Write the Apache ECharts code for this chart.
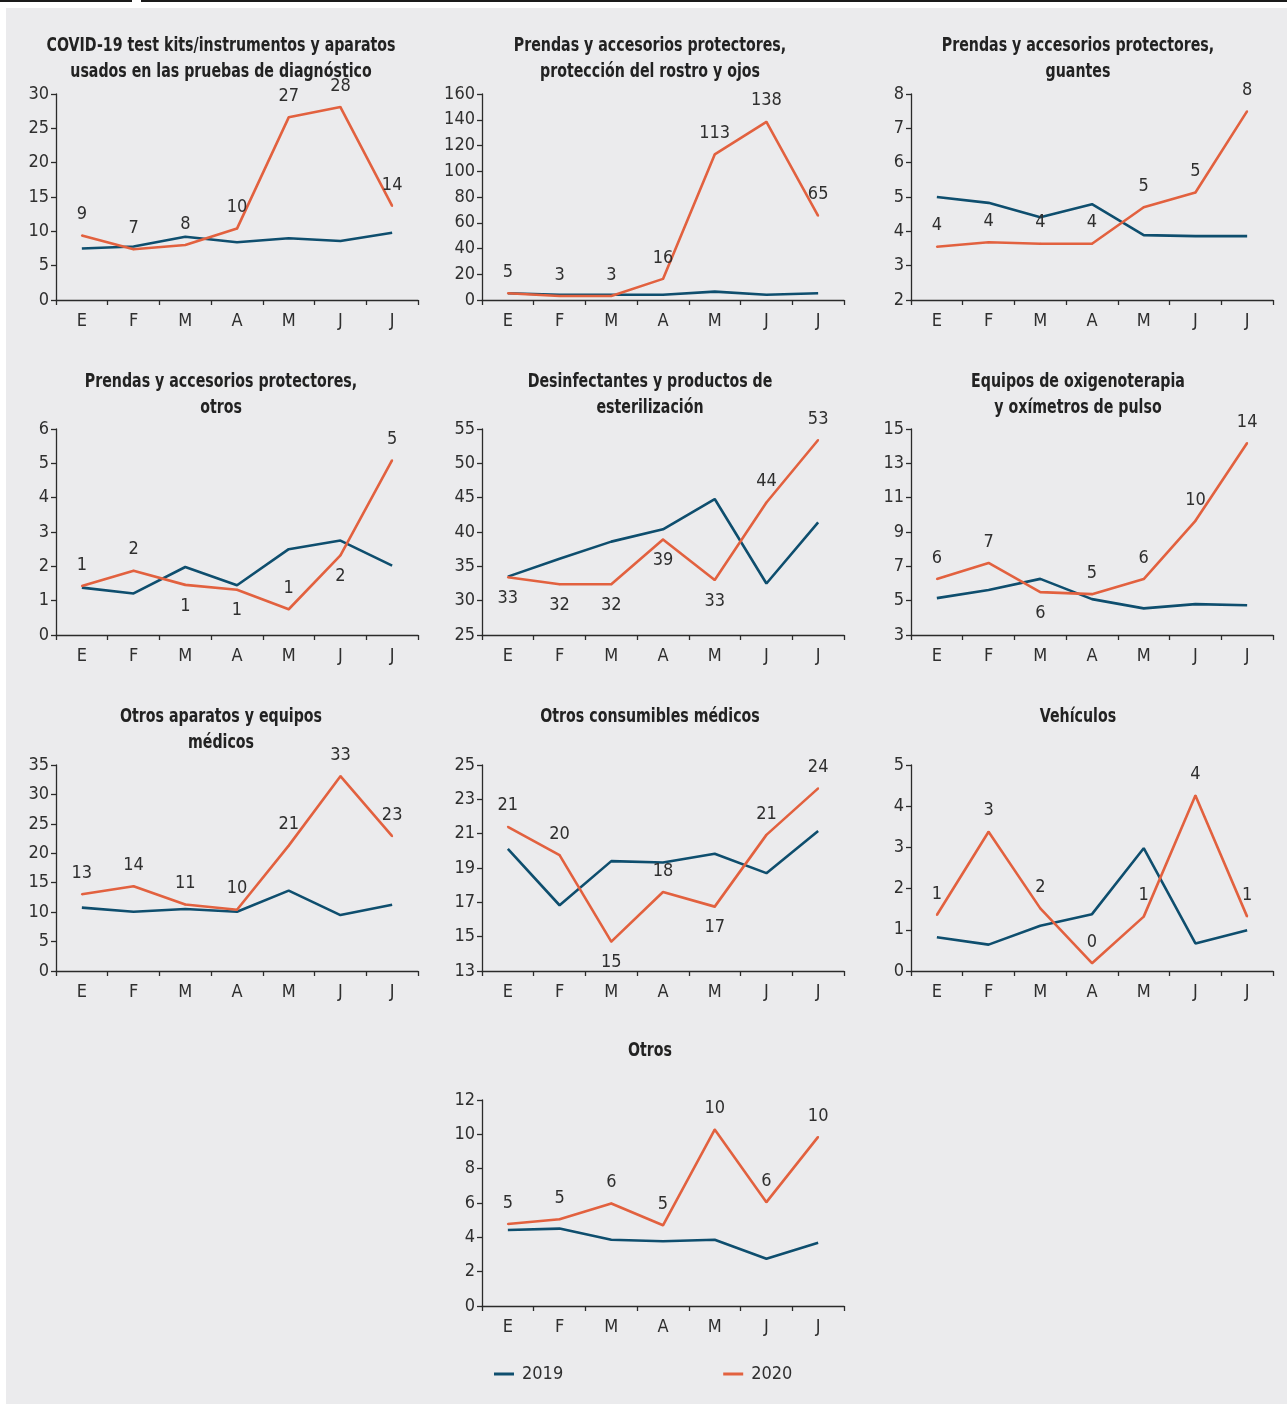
<!DOCTYPE html>
<html>
<head>
<meta charset="utf-8">
<script src="https://cdn.jsdelivr.net/npm/echarts@6/dist/echarts.min.js"></script>
<style>
  html, body { margin: 0; padding: 0; background: #ffffff; }
  #wrap { position: relative; width: 1287px; height: 1404px; overflow: hidden; }
  #panel { position: absolute; left: 6px; top: 8px; right: 0; bottom: 0; background: #ebebed; }
  .rule { position: absolute; top: 0; height: 2px; background: #1a1a1a; }
  #chart { position: absolute; left: 0; top: 0; width: 1287px; height: 1404px; }
</style>
</head>
<body>
<div id="wrap">
  <div id="panel"></div>
  <div class="rule" style="left:0;width:132px"></div>
  <div class="rule" style="left:141px;width:1146px"></div>
  <div id="chart"></div>
</div>
<script>
// ---------- data ----------
const months = ['E', 'F', 'M', 'A', 'M', 'J', 'J'];
const seriesNames = ['2019', '2020'];

const kits2019 = [7.5, 7.8, 9.2, 8.4, 9.0, 8.6, 9.8];
const kits2020 = [9.4, 7.4, 8.0, 10.4, 26.6, 28.1, 13.7];
const kitsTicks = [0, 5, 10, 15, 20, 25, 30];

const rostro2019 = [5.2, 4.1, 4.1, 4.1, 6.5, 4.1, 5.2];
const rostro2020 = [5.2, 3.1, 3.1, 16.4, 113.1, 138.4, 65.4];
const rostroTicks = [0, 20, 40, 60, 80, 100, 120, 140, 160];

const guantes2019 = [5.0, 4.83, 4.41, 4.79, 3.89, 3.86, 3.86];
const guantes2020 = [3.55, 3.68, 3.64, 3.64, 4.70, 5.13, 7.5];
const guantesTicks = [2, 3, 4, 5, 6, 7, 8];

const otrosProt2019 = [1.38, 1.21, 1.98, 1.45, 2.50, 2.75, 2.02];
const otrosProt2020 = [1.43, 1.87, 1.46, 1.32, 0.75, 2.32, 5.09];
const otrosProtTicks = [0, 1, 2, 3, 4, 5, 6];

const desinf2019 = [33.5, 36.1, 38.6, 40.4, 44.8, 32.5, 41.4];
const desinf2020 = [33.4, 32.4, 32.4, 38.9, 33.0, 44.3, 53.4];
const desinfTicks = [25, 30, 35, 40, 45, 50, 55];

const oxi2019 = [5.15, 5.62, 6.27, 5.09, 4.55, 4.80, 4.73];
const oxi2020 = [6.26, 7.20, 5.5, 5.38, 6.26, 9.65, 14.18];
const oxiTicks = [3, 5, 7, 9, 11, 13, 15];

const aparatos2019 = [10.76, 10.07, 10.53, 10.07, 13.66, 9.5, 11.27];
const aparatos2020 = [13.03, 14.4, 11.3, 10.4, 21.3, 33.1, 22.9];
const aparatosTicks = [0, 5, 10, 15, 20, 25, 30, 35];

const consum2019 = [20.12, 16.83, 19.4, 19.32, 19.83, 18.7, 21.15];
const consum2020 = [21.4, 19.75, 14.71, 17.6, 16.75, 20.93, 23.64];
const consumTicks = [13, 15, 17, 19, 21, 23, 25];

const vehic2019 = [0.82, 0.64, 1.10, 1.38, 2.98, 0.67, 0.99];
const vehic2020 = [1.36, 3.38, 1.52, 0.19, 1.32, 4.26, 1.32];
const vehicTicks = [0, 1, 2, 3, 4, 5];

const otros2019 = [4.43, 4.51, 3.86, 3.77, 3.86, 2.75, 3.69];
const otros2020 = [4.78, 5.05, 5.97, 4.70, 10.28, 6.05, 9.85];
const otrosTicks = [0, 2, 4, 6, 8, 10, 12];

// ---------- panels (layout) ----------
const panels = [
  { title: ['COVID-19 test kits/instrumentos y aparatos', 'usados en las pruebas de diagnóstico'], a: kits2019, b: kits2020, ticks: kitsTicks, below: [], col: 0, row: 0 },
  { title: ['Prendas y accesorios protectores,', 'protección del rostro y ojos'], a: rostro2019, b: rostro2020, ticks: rostroTicks, below: [], col: 1, row: 0 },
  { title: ['Prendas y accesorios protectores,', 'guantes'], a: guantes2019, b: guantes2020, ticks: guantesTicks, below: [], col: 2, row: 0 },
  { title: ['Prendas y accesorios protectores,', 'otros'], a: otrosProt2019, b: otrosProt2020, ticks: otrosProtTicks, below: [2, 3, 5], col: 0, row: 1 },
  { title: ['Desinfectantes y productos de', 'esterilización'], a: desinf2019, b: desinf2020, ticks: desinfTicks, below: [0, 1, 2, 3, 4], col: 1, row: 1 },
  { title: ['Equipos de oxigenoterapia', 'y oxímetros de pulso'], a: oxi2019, b: oxi2020, ticks: oxiTicks, below: [2], col: 2, row: 1 },
  { title: ['Otros aparatos y equipos', 'médicos'], a: aparatos2019, b: aparatos2020, ticks: aparatosTicks, below: [], col: 0, row: 2 },
  { title: ['Otros consumibles médicos'], a: consum2019, b: consum2020, ticks: consumTicks, below: [2, 4], col: 1, row: 2 },
  { title: ['Vehículos'], a: vehic2019, b: vehic2020, ticks: vehicTicks, below: [], col: 2, row: 2 },
  { title: ['Otros'], a: otros2019, b: otros2020, ticks: otrosTicks, below: [], col: 1, row: 3 }
];

const FF = "'Liberation Sans Narrow','DejaVu Sans Condensed',sans-serif";
const NAVY = '#0e4e6e';
const ORANGE = '#e2613f';
const AXIS = '#2b2b2b';
const TEXT = '#2f2f2f';

const colLeft = [56, 482, 911];
const colTitle = [221, 650, 1078];
const rowTop = [94, 429, 765, 1100];
const titleLine1 = [46, 382, 717, 1051];
const titleLineGap = 26;
const gridW = 362, gridH = 206;

const grids = [], xAxes = [], yAxes = [], series = [], graphics = [];

panels.forEach((p, i) => {
  grids.push({ left: colLeft[p.col], top: rowTop[p.row], width: gridW, height: gridH, containLabel: false });
  p.title.forEach((line, li) => {
    graphics.push({
      type: 'text',
      x: colTitle[p.col],
      y: titleLine1[p.row] + li * titleLineGap,
      scaleX: 0.83,
      silent: true,
      style: {
        text: line,
        fontFamily: FF, fontWeight: 'bold', fontSize: 19,
        fill: '#222', align: 'center', verticalAlign: 'middle'
      }
    });
  });
  xAxes.push({
    type: 'category', gridIndex: i, data: months, boundaryGap: true,
    axisLine: { lineStyle: { color: AXIS, width: 1.3 } },
    axisTick: { show: true, length: 5, lineStyle: { color: AXIS, width: 1.3 } },
    axisLabel: { fontFamily: FF, fontSize: 18, color: TEXT, margin: 12 },
    splitLine: { show: false }
  });
  yAxes.push({
    type: 'value', gridIndex: i,
    min: p.ticks[0], max: p.ticks[p.ticks.length - 1],
    axisLine: { show: true, lineStyle: { color: AXIS, width: 1.3 } },
    axisTick: { show: true, length: 5, customValues: p.ticks, lineStyle: { color: AXIS, width: 1.3 } },
    axisLabel: { fontFamily: FF, fontSize: 18, color: TEXT, margin: 7, customValues: p.ticks },
    splitLine: { show: false }
  });
  series.push({
    name: seriesNames[0], type: 'line', xAxisIndex: i, yAxisIndex: i,
    data: p.a, symbol: 'none', color: NAVY,
    lineStyle: { color: NAVY, width: 2.6 }, emphasis: { disabled: true }, z: 2
  });
  series.push({
    name: seriesNames[1], type: 'line', xAxisIndex: i, yAxisIndex: i,
    data: p.b.map((v, k) => p.below.indexOf(k) >= 0 ? { value: v, label: { position: 'bottom' } } : v),
    symbol: 'circle', symbolSize: 2, showSymbol: true, color: ORANGE,
    itemStyle: { color: ORANGE },
    lineStyle: { color: ORANGE, width: 2.6 }, emphasis: { disabled: true }, z: 3,
    label: {
      show: true, position: 'top', distance: 11,
      fontFamily: FF, fontSize: 18, color: TEXT,
      formatter: (q) => String(Math.round(q.value))
    }
  });
});

const chart = echarts.init(document.getElementById('chart'), null, { renderer: 'canvas' });
chart.setOption({
  animation: false,
  backgroundColor: 'transparent',
  grid: grids,
  xAxis: xAxes,
  yAxis: yAxes,
  series: series,
  graphic: graphics,
  legend: {
    data: seriesNames,
    left: 494, top: 1365, padding: 0,
    icon: 'rect', itemWidth: 20, itemHeight: 3, itemGap: 160,
    textStyle: { fontFamily: FF, fontSize: 18, color: TEXT, padding: [0, 0, 0, 3] }
  }
});
</script>
</body>
</html>
